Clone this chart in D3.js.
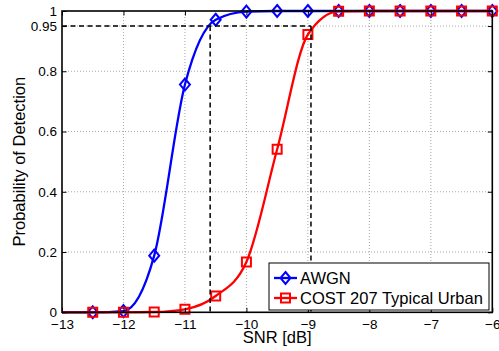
<!DOCTYPE html>
<html>
<head>
<meta charset="utf-8">
<script src="https://cdn.jsdelivr.net/npm/d3@7"></script>
<style>
  body { margin: 0; background: #fff; }
  svg { display: block; font-family: "Liberation Sans", Arial, sans-serif; }
</style>
</head>
<body>
<div id="chart"></div>
<script>
// data
const xTicks = [-13, -12, -11, -10, -9, -8, -7, -6];
const yTicks = [0, 0.2, 0.4, 0.6, 0.8, 0.95, 1];
const snr = [-12.5, -12, -11.5, -11, -10.5, -10, -9.5, -9, -8.5, -8, -7.5, -7, -6.5, -6];
const awgn = [0, 0.004, 0.188, 0.756, 0.971, 0.998, 1, 1, 1, 1, 1, 1, 1, 1];
const cost207 = [0, 0, 0.001, 0.01, 0.054, 0.167, 0.541, 0.922, 0.999, 1, 1, 1, 1, 1];
const curveStart = [-13, 0];   // both fitted curves start at the left edge
const pdTarget = 0.95;
const snrAt95 = [-10.59, -8.95]; // AWGN, COST 207
const seriesNames = ['AWGN', 'COST 207 Typical Urban'];

const W = 499, H = 351;
const margin = {top: 11, right: 6.7, bottom: 38.7, left: 62};
const pw = W - margin.left - margin.right;
const ph = H - margin.top - margin.bottom;

const svg = d3.select('#chart').append('svg').attr('width', W).attr('height', H);
const g = svg.append('g').attr('transform', 'translate(' + margin.left + ',' + margin.top + ')');

const x = d3.scaleLinear().domain([-13, -6]).range([0, pw]);
const y = d3.scaleLinear().domain([0, 1]).range([ph, 0]);

// grid
g.append('g').selectAll('line').data(xTicks.slice(1, -1)).join('line')
  .attr('x1', d => x(d)).attr('x2', d => x(d)).attr('y1', 0).attr('y2', ph)
  .attr('stroke', '#a8a8a8').attr('stroke-width', 1).attr('stroke-dasharray', '1,2');
g.append('g').selectAll('line').data(yTicks.slice(1, -1)).join('line')
  .attr('y1', d => y(d)).attr('y2', d => y(d)).attr('x1', 0).attr('x2', pw)
  .attr('stroke', '#a8a8a8').attr('stroke-width', 1).attr('stroke-dasharray', '1,2');

// series
const line = d3.line().x(d => x(d[0])).y(d => y(d[1])).curve(d3.curveMonotoneX);
const diamond = 'M0,-6L5,0L0,6L-5,0Z';
const square = 'M-4.5,-4.5H4.5V4.5H-4.5Z';
const series = [
  {vals: awgn, color: '#0000ff', marker: diamond},
  {vals: cost207, color: '#ff0000', marker: square}
];

series.forEach(s => {
  const pts = [curveStart].concat(snr.map((v, i) => [v, s.vals[i]]));
  g.append('path').datum(pts)
    .attr('fill', 'none').attr('stroke', s.color).attr('stroke-width', 2.3)
    .attr('stroke-linejoin', 'round').attr('d', line);
  g.append('g').selectAll('path').data(pts.slice(1)).join('path')
    .attr('transform', d => 'translate(' + x(d[0]) + ',' + y(d[1]) + ')')
    .attr('d', s.marker)
    .attr('fill', 'none').attr('stroke', s.color).attr('stroke-width', 2);
});

// 0.95 reference lines
const dash = '5,3.5';
g.append('line')
  .attr('x1', x(-13)).attr('x2', x(d3.max(snrAt95)))
  .attr('y1', y(pdTarget)).attr('y2', y(pdTarget))
  .attr('stroke', '#000').attr('stroke-width', 1.5).attr('stroke-dasharray', dash);
g.append('g').selectAll('line').data(snrAt95).join('line')
  .attr('x1', d => x(d)).attr('x2', d => x(d))
  .attr('y1', y(pdTarget)).attr('y2', y(0))
  .attr('stroke', '#000').attr('stroke-width', 1.5).attr('stroke-dasharray', dash);

// axes (ticks inward on all sides)
const tl = -4.5;
const axB = g.append('g').attr('transform', 'translate(0,' + ph + ')')
  .call(d3.axisBottom(x).tickValues(xTicks).tickSize(tl).tickPadding(7).tickFormat(d3.format('d')));
const axL = g.append('g')
  .call(d3.axisLeft(y).tickValues(yTicks).tickSize(tl).tickPadding(5).tickFormat(d => String(d)));
g.append('g').call(d3.axisTop(x).tickValues(xTicks).tickSize(tl).tickFormat(''));
g.append('g').attr('transform', 'translate(' + pw + ',0)')
  .call(d3.axisRight(y).tickValues(yTicks).tickSize(tl).tickFormat(''));

g.selectAll('.domain').remove();
g.selectAll('.tick line').attr('stroke', '#000').attr('stroke-width', 1);
g.selectAll('.tick text').attr('fill', '#000').style('font-size', '13.5px')
  .style('font-family', '"Liberation Sans", Arial, sans-serif');

// box
g.append('rect').attr('x', 0).attr('y', 0).attr('width', pw).attr('height', ph)
  .attr('fill', 'none').attr('stroke', '#000').attr('stroke-width', 1.6);

// axis labels
svg.append('text')
  .attr('x', margin.left + pw / 2).attr('y', 343)
  .attr('text-anchor', 'middle').style('font-size', '16.5px').text('SNR [dB]');
svg.append('text')
  .attr('transform', 'translate(25,' + (margin.top + ph / 2) + ') rotate(-90)')
  .attr('text-anchor', 'middle').style('font-size', '16.5px').text('Probability of Detection');

// legend
const lg = svg.append('g').attr('transform', 'translate(269,263)');
lg.append('rect').attr('width', 220).attr('height', 47)
  .attr('fill', '#fff').attr('stroke', '#000').attr('stroke-width', 1);
series.forEach((s, i) => {
  const row = lg.append('g').attr('transform', 'translate(0,' + (15 + i * 20) + ')');
  row.append('line').attr('x1', 5).attr('x2', 28).attr('y1', 0).attr('y2', 0)
    .attr('stroke', s.color).attr('stroke-width', 2.3);
  row.append('path').attr('transform', 'translate(16.5,0)').attr('d', s.marker)
    .attr('fill', 'none').attr('stroke', s.color).attr('stroke-width', 2);
  row.append('text').attr('x', 31).attr('y', 0).attr('dy', '0.36em')
    .style('font-size', '16.5px').text(seriesNames[i]);
});
</script>
</body>
</html>
